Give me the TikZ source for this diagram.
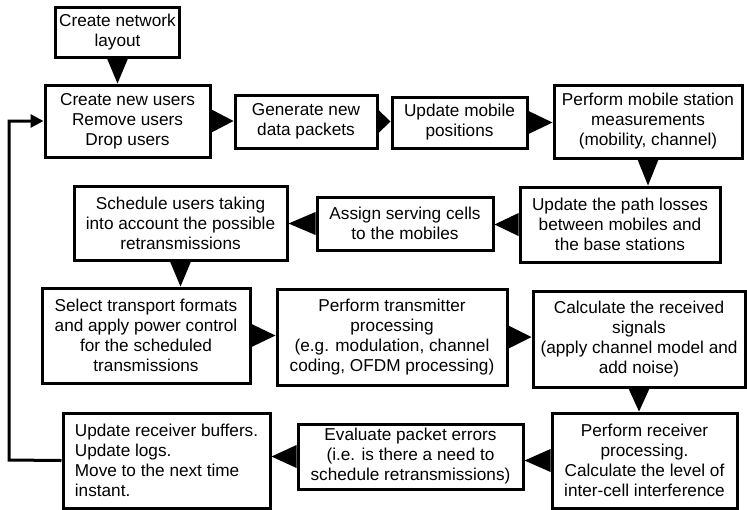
\documentclass[tikz,border=0pt]{standalone}
\usepackage{fontspec}
\setmainfont{Liberation Sans}
\usetikzlibrary{calc,arrows.meta}

\tikzset{
  box/.style={draw, line width=1.5pt, align=center, inner sep=2pt,
    font=\fontsize{8.6}{10}\selectfont},
  loopline/.style={line width=1.5pt, -{Triangle[length=6.5pt,width=6.5pt]}},
}

% black wedge from the edge of one box to the next
\newcommand{\hwedge}[2]{\path (#2 |- #1) coordinate (tip);
  \fill (tip) -- ($(#1)!5.75pt!90:(tip)$) -- ($(#1)!5.75pt!-90:(tip)$) -- cycle;}
\newcommand{\vwedge}[2]{\path (#1 |- #2) coordinate (tip);
  \fill (tip) -- ($(#1)!5.25pt!90:(tip)$) -- ($(#1)!5.25pt!-90:(tip)$) -- cycle;}

\begin{document}
\begin{tikzpicture}[x=0.5pt,y=-0.5pt]
\useasboundingbox (0,0) rectangle (747,509);

\node[box, minimum width=60.5pt, minimum height=25pt] (layout) at (117.5,32)
  {Create network\\layout};
\node[box, minimum width=82.5pt, minimum height=36pt] (users) at (127.5,121)
  {Create new users\\Remove users\\Drop users};
\node[box, minimum width=71pt, minimum height=26.5pt] (packets) at (306,121.5)
  {Generate new\\data packets};
\node[box, minimum width=67.5pt, minimum height=25.5pt] (mobpos) at (459.5,122.5)
  {Update mobile\\positions};
\node[box, minimum width=94pt, minimum height=36.5pt] (measure) at (648,121.5)
  {Perform mobile station\\measurements\\(mobility, channel)};

\node[box, minimum width=100pt, minimum height=37.5pt] (pathloss) at (620,224.5)
  {Update the path losses\\between mobiles and\\the base stations};
\node[box, minimum width=88pt, minimum height=26.5pt] (assign) at (405,223.5)
  {Assign serving cells\\to the mobiles};
\node[box, minimum width=106.5pt, minimum height=37pt] (sched) at (180.5,223)
  {Schedule users taking\\into account the possible\\retransmissions};

\node[box, minimum width=104pt, minimum height=47.5pt] (format) at (146,335.5)
  {Select transport formats\\and apply power control\\for the scheduled\\transmissions};
\node[box, minimum width=115pt, minimum height=48pt] (txproc) at (392,337)
  {Perform transmitter\\processing\\(e.g. modulation, channel\\coding, OFDM processing)};
\node[box, minimum width=106pt, minimum height=48pt] (rxsig) at (639,339)
  {Calculate the received\\signals\\(apply channel model and\\add noise)};

\node[box, minimum width=92.5pt, minimum height=47.5pt] (rxproc) at (644.5,460.5)
  {Perform receiver\\processing.\\Calculate the level of\\inter-cell interference};
\node[box, minimum width=112.5pt, minimum height=32.5pt] (errors) at (410.5,456.5)
  {Evaluate packet errors\\(i.e. is there a need to\\schedule retransmissions)};
\node[box, align=left, minimum width=103.5pt, minimum height=47.5pt] (buffers) at (166.5,460.5)
  {Update receiver buffers.\\Update logs.\\Move to the next time\\instant.};

% wedges
\vwedge{layout.south}{users.north}
\hwedge{users.east}{packets.west}
\hwedge{packets.east}{mobpos.west}
\hwedge{mobpos.east}{measure.west}
\vwedge{measure.south}{pathloss.north}
\hwedge{pathloss.west}{assign.east}
\hwedge{assign.west}{sched.east}
\vwedge{sched.south}{format.north}
\hwedge{format.east}{txproc.west}
\hwedge{txproc.east}{rxsig.west}
\vwedge{rxsig.south}{rxproc.north}
\hwedge{rxproc.west}{errors.east}
\hwedge{errors.west}{buffers.east}

% back to the start
\coordinate (corner) at (9,460);
\draw[loopline] (buffers.west) -- (corner) -- (corner |- users.west) -- (users.west);
\end{tikzpicture}
\end{document}
